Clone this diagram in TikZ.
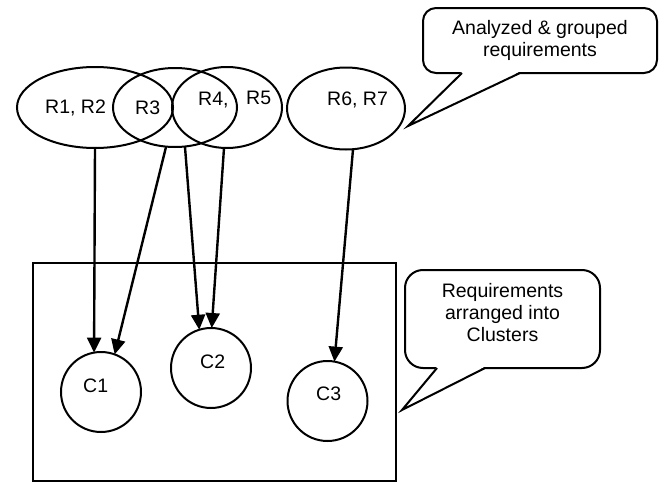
\documentclass[tikz,border=0pt]{standalone}
\usepackage{fontspec}
\setmainfont{Liberation Sans}
\usetikzlibrary{shapes.geometric,arrows.meta,calc}

\tikzset{
  shapeline/.style={draw=black, line width=2pt},
  reqset/.style={shapeline, ellipse, inner sep=0pt, outer sep=0pt},
  cluster/.style={shapeline, circle, minimum size=80pt, inner sep=0pt, outer sep=0pt},
  lbl/.style={anchor=base west, inner sep=0pt, font=\fontsize{19.5}{22}\selectfont},
  calltext/.style={align=center, inner sep=0pt, font=\fontsize{19.5}{22}\selectfont},
  callbody/.style={shapeline, rectangle, inner sep=0pt, outer sep=0pt, fill=white},
  flow/.style={line width=2.4pt, -{Triangle[length=15pt,width=14pt]}},
}

\begin{document}
\begin{tikzpicture}[x=1pt, y=-1pt]
  \useasboundingbox (0,0) rectangle (665,482);

  % cluster area
  \node[shapeline, rectangle, minimum width=363pt, minimum height=218pt,
        inner sep=0pt] (area) at (214.5,372) {};

  % grouped requirement sets
  \node[reqset, minimum width=156pt, minimum height=81pt] (e1) at (95,107.5) {};
  \node[reqset, minimum width=124pt, minimum height=79pt] (e2) at (175,107.5) {};
  \node[reqset, minimum width=110pt, minimum height=81pt] (e3) at (227,107.5) {};
  \node[reqset, minimum width=118pt, minimum height=82pt] (e4) at (346,108.5) {};

  \node[lbl] (t12) at (45,113.5) {R1, R2};
  \node[lbl] (t3)  at (135,114) {R3};
  \node[lbl] (t4)  at (198,105) {R4,};
  \node[lbl] (t5)  at (246,104) {R5};
  \node[lbl] (t67) at (327,105) {R6, R7};

  % clusters
  \node[cluster] (c1) at (101,392) {};
  \node[cluster] (c2) at (211,368) {};
  \node[cluster] (c3) at (327.5,401) {};

  \node[lbl] (tc1) at (83,392) {C1};
  \node[lbl] (tc2) at (200,368) {C2};
  \node[lbl] (tc3) at (316,400) {C3};

  % assignments of requirement sets to clusters
  \draw[flow] (e1.south) -- (c1.100);
  \draw[flow] ($(e2.south)+(-9,0)$) -- (c1.70);
  \draw[flow] ($(e2.south)+(10,0)$) -- (c2.107);
  \draw[flow] ($(e3.south)+(-3,0)$) -- (c2.89);
  \draw[flow] ($(e4.south)+(7,0)$) -- (c3.80);

  % callout: analyzed requirements
  \node[callbody, rounded corners=13pt, minimum width=234pt, minimum height=65pt]
    (ca) at (540,40.5) {};
  \coordinate (ca1) at ($(ca.south west)+(39,0)$);
  \coordinate (ca2) at ($(ca.south west)+(97,0)$);
  \coordinate (catip) at (408,126);
  \fill[white] ($(ca1)+(0,-1.4)$) -- (catip) -- ($(ca2)+(0,-1.4)$) -- cycle;
  \draw[line width=2pt, line join=miter] (ca1) -- (catip) -- (ca2);
  \node[calltext] (cat) at (540,40) {Analyzed \& grouped\\requirements};

  % callout: clusters
  \node[callbody, rounded corners=18pt, minimum width=195pt, minimum height=98pt]
    (cb) at (502.5,319) {};
  \coordinate (cb1) at ($(cb.south west)+(32,0)$);
  \coordinate (cb2) at ($(cb.south west)+(80,0)$);
  \coordinate (cbtip) at (402,410);
  \fill[white] ($(cb1)+(0,-1.4)$) -- (cbtip) -- ($(cb2)+(0,-1.4)$) -- cycle;
  \draw[line width=2pt, line join=miter] (cb1) -- (cbtip) -- (cb2);
  \node[calltext] (cbt) at (502.5,313) {Requirements\\arranged into\\Clusters};
\end{tikzpicture}
\end{document}
